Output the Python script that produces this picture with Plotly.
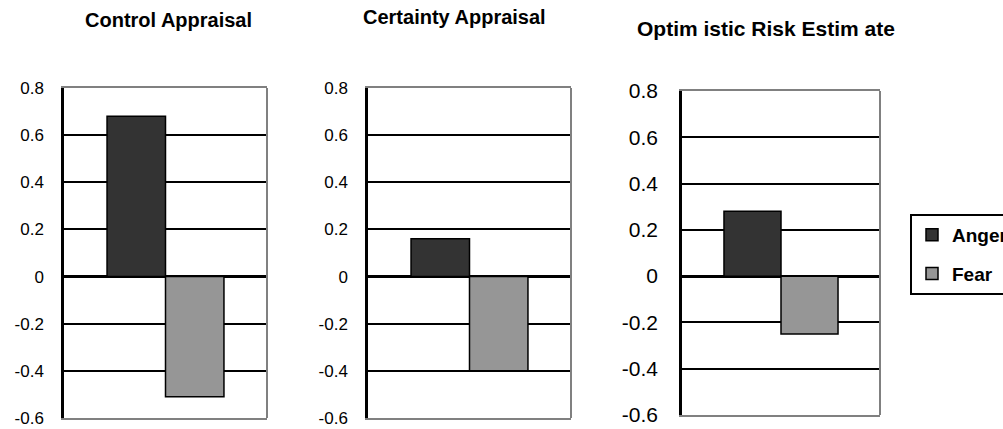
import plotly.graph_objects as go

# ---- data ----
categories = ["Control Appraisal", "Certainty Appraisal", "Optimistic Risk Estimate"]
titles = ["Control Appraisal", "Certainty Appraisal", "Optim istic Risk Estim ate"]
series_names = ["Anger", "Fear"]
anger = [0.68, 0.16, 0.28]
fear = [-0.51, -0.40, -0.25]
tick_vals = [-0.6, -0.4, -0.2, 0, 0.2, 0.4, 0.6, 0.8]
tick_text = ["-0.6", "-0.4", "-0.2", "0", "0.2", "0.4", "0.6", "0.8"]

W, H = 1003, 429
FONT = "Liberation Sans, Arial, sans-serif"
colors = {"Anger": "#333333", "Fear": "#969696"}

# panel pixel boxes (left, right, top, bottom)
boxes = [(64, 267, 88, 418), (368, 571, 88, 418), (682, 880, 91, 415)]
tick_sizes = [17, 17, 21]
standoffs = [14, 14, 17]
title_pos = [(168, 20), (454, 17), (766, 28)]
title_sizes = [20, 20, 21]

fig = go.Figure()
values = {"Anger": anger, "Fear": fear}

for i, cat in enumerate(categories):
    ax = "" if i == 0 else str(i + 1)
    for name in series_names:
        fig.add_trace(go.Bar(
            x=[cat], y=[values[name][i]], name=name,
            xaxis="x" + ax, yaxis="y" + ax,
            marker=dict(color=colors[name], line=dict(color="black", width=1.5)),
            showlegend=(i == 0), legendgroup=name,
        ))
    l, r, t, b = boxes[i]
    fig.update_layout(**{
        "xaxis" + ax: dict(
            domain=[l / W, r / W], anchor="y" + ax,
            showticklabels=False, showgrid=False, zeroline=False,
            showline=True, linecolor="#808080", linewidth=2, mirror=True,
            ticks="", fixedrange=True,
        ),
        "yaxis" + ax: dict(
            domain=[1 - b / H, 1 - t / H], anchor="x" + ax,
            range=[-0.6, 0.8], tickvals=tick_vals, ticktext=tick_text,
            showgrid=True, gridcolor="black", gridwidth=1.5,
            zeroline=True, zerolinecolor="black", zerolinewidth=2.5,
            showline=True, linecolor="black", linewidth=2.5,
            ticks="inside", ticklen=6, tickwidth=2, tickcolor="black",
            ticklabelstandoff=standoffs[i],
            tickfont=dict(family=FONT, size=tick_sizes[i], color="black"),
        ),
    })
    fig.add_shape(type="line", xref="x" + ax + " domain", yref="y" + ax + " domain",
                  x0=1, x1=1, y0=0, y1=1, line=dict(color="#808080", width=2))
    tx, ty = title_pos[i]
    fig.add_annotation(text="<b>" + titles[i] + "</b>", xref="paper", yref="paper",
                       x=tx / W, y=1 - ty / H, xanchor="center", yanchor="middle",
                       showarrow=False, font=dict(family=FONT, size=title_sizes[i], color="black"))

fig.update_layout(
    width=W, height=H,
    margin=dict(l=0, r=0, t=0, b=0, autoexpand=False),
    paper_bgcolor="white", plot_bgcolor="white",
    barmode="group", bargap=0.424, bargroupgap=0,
    legend=dict(x=910 / W, y=1 - 214 / H, xanchor="left", yanchor="top",
                bordercolor="black", borderwidth=2, bgcolor="white",
                font=dict(family=FONT, size=19, color="black", weight="bold"),
                tracegroupgap=11, traceorder="grouped"),
)

fig.write_html("out.html", config={"displayModeBar": False},
               post_script="document.body.style.margin='0';document.body.style.overflow='hidden';")
